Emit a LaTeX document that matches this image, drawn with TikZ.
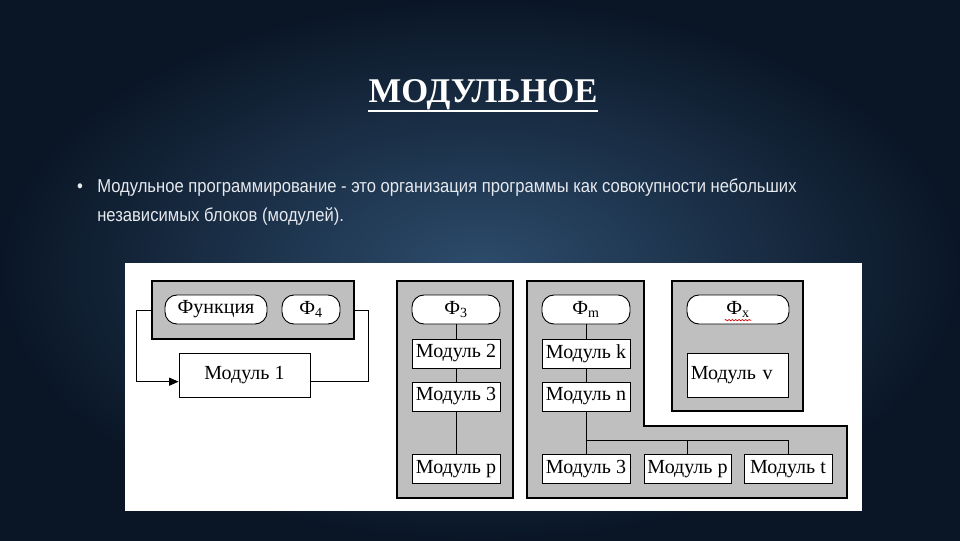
\documentclass[tikz,border=0pt]{standalone}
\usepackage{fontspec}
\setmainfont{Liberation Serif}
\newfontfamily\bodyfont[FakeStretch=0.89]{Liberation Sans}
\usepackage{xcolor}
\usetikzlibrary{positioning,calc,arrows.meta,decorations.pathmorphing}

\definecolor{slidedark}{HTML}{0A1626}
\definecolor{slidemid}{HTML}{2D4C6C}
\definecolor{boxgray}{HTML}{BFBFBF}
\definecolor{bodytext}{HTML}{E6E9EE}

\tikzset{
    grp/.style={draw=black, fill=boxgray, line width=0.8pt},
    pill/.style={draw=black, fill=white, line width=0.7pt, rounded corners=9pt,
        minimum height=21.75pt, inner sep=1pt, font=\fontsize{15}{18}\selectfont},
    modbox/.style={draw=black, fill=white, line width=0.7pt, minimum width=66pt,
        minimum height=21.75pt, inner sep=1pt, font=\fontsize{15}{18}\selectfont},
    link/.style={draw=black, line width=0.7pt},
    bodytxt/.style={text=bodytext, inner sep=0pt, font=\bodyfont\fontsize{14}{16}\selectfont}
}

\begin{document}
\begin{tikzpicture}[x=0.75pt, y=-0.75pt]
    \useasboundingbox (0,0) rectangle (960,540);
    \shade[inner color=slidemid, outer color=slidedark] (0,0) rectangle (960,540);

    \node[text=white, inner sep=0pt, anchor=base, font=\bfseries\fontsize{26}{30}\selectfont] (title) at (483,102) {МОДУЛЬНОЕ};
    \draw[white, line width=1.5pt] ([yshift=-7pt]title.base west) -- ([yshift=-7pt]title.base east);

    \node[bodytxt, anchor=base] (dot) at (80,192) {•};
    \node[bodytxt, anchor=base west] (line1) at (97,192) {Модульное программирование - это организация программы как совокупности небольших};
    \node[bodytxt, anchor=base west] (line2) at (97,221) {независимых блоков (модулей).};

    \fill[white] (125,263) rectangle (862,511);

    % group: function
    \draw[grp] (152,281) rectangle (354,339);
    \node[pill, minimum width=76.5pt] (func) at (216,309.5) {Функция};
    \node[pill, minimum width=43.5pt] (f4) at (311,309.5) {Ф\textsubscript{4}};
    \node[modbox, minimum width=98.25pt, minimum height=33pt] (mod1) at (244.5,375) {Модуль 1};
    \coordinate (grpL) at (152,310);
    \coordinate (grpR) at (354,310);
    \draw[link, -{Triangle[length=7pt,width=6pt]}] (grpL) -- ++(-16,0) |- ([yshift=-5pt]mod1.west);
    \draw[link] (grpR) -- ++(14,0) |- ([yshift=-5pt]mod1.east);

    % group: f3
    \draw[grp] (397,281) rectangle (513,498);
    \node[pill, minimum width=66pt] (f3) at (456,309.5) {Ф\textsubscript{3}};
    \node[modbox] (m2) at (456,353.5) {Модуль 2};
    \node[modbox] (m3) at (456,396.5) {Модуль 3};
    \node[modbox] (mp) at (456,469) {Модуль p};
    \draw[link] (f3) -- (m2);
    \draw[link] (m2) -- (m3);
    \draw[link] (m3) -- (mp);

    % group: fm
    \draw[grp] (527,281) -- (644,281) -- (644,426) -- (847,426) -- (847,498) -- (527,498) -- cycle;
    \node[pill, minimum width=66pt] (fm) at (586,309.5) {Ф\textsubscript{m}};
    \node[modbox] (mk) at (586,353.5) {Модуль k};
    \node[modbox] (mn) at (586,396.5) {Модуль n};
    \node[modbox] (m3b) at (586,469) {Модуль 3};
    \node[modbox, minimum width=65.25pt] (mpb) at (687.5,469) {Модуль p};
    \node[modbox] (mt) at (788,469) {Модуль t};
    \coordinate (bus) at (586,440);
    \draw[link] (fm) -- (mk);
    \draw[link] (mk) -- (mn);
    \draw[link] (mn) -- (m3b);
    \draw[link] (bus) -| (mt);
    \draw[link] (bus -| mpb.north) -- (mpb);

    % group: fx
    \draw[grp] (672,281) rectangle (803,411);
    \node[pill, minimum width=76.5pt] (fx) at (738,309.5) {Ф\textsubscript{х}};
    \node[modbox, minimum width=75.75pt, minimum height=33pt, text width=70pt, align=left] (mv) at (737.5,375) {Модуль v};
    \draw[red!80!black, line width=0.5pt, decorate, decoration={snake, amplitude=0.5pt, segment length=2.5pt}]
        ([xshift=-10pt,yshift=-8pt]fx.center) -- ([xshift=10pt,yshift=-8pt]fx.center);
\end{tikzpicture}
\end{document}
